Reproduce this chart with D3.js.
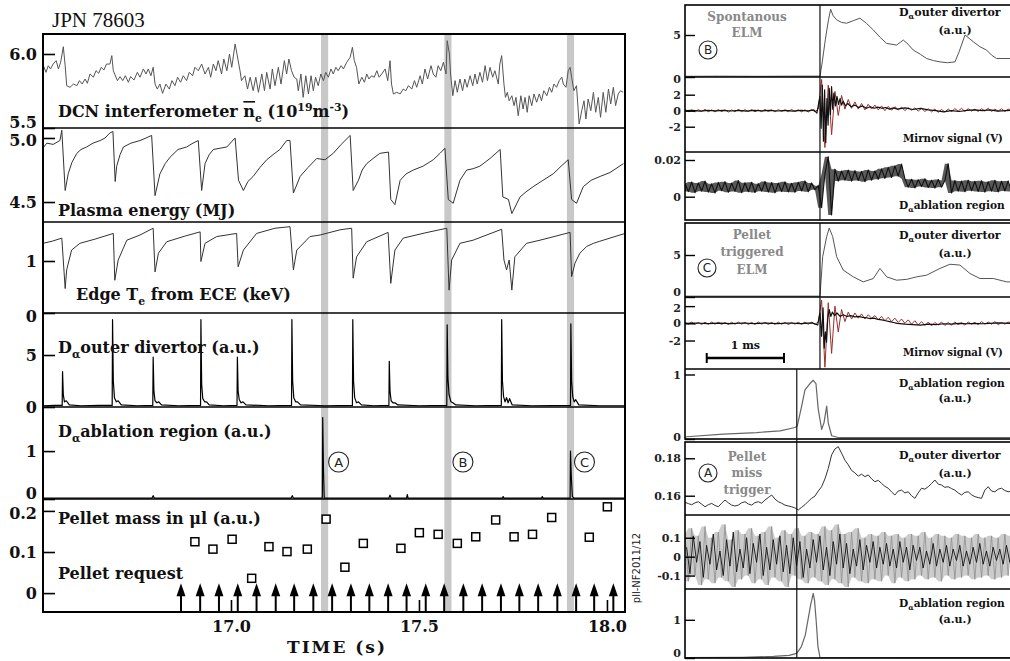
<!DOCTYPE html>
<html><head><meta charset="utf-8">
<script src="https://cdn.jsdelivr.net/npm/d3@7"></script>
<style>body{margin:0;background:#fff}svg{display:block}</style>
</head><body>
<svg id="c" width="1010" height="661"></svg>
<script>
// ================= DATA (left: time in s) =================
const dcnDensity = [[16.501,5.921],[16.508,5.876],[16.514,5.921],[16.520,5.899],[16.527,5.932],[16.535,5.955],[16.541,5.899],[16.547,5.944],[16.554,6.049],[16.559,5.921],[16.563,5.786],[16.572,5.775],[16.581,5.797],[16.590,5.786],[16.597,5.820],[16.604,5.797],[16.612,5.831],[16.618,5.802],[16.625,5.865],[16.634,5.843],[16.641,5.887],[16.648,5.870],[16.655,5.910],[16.662,5.892],[16.669,5.932],[16.678,5.932],[16.683,5.989],[16.687,5.887],[16.698,5.820],[16.705,5.847],[16.712,5.820],[16.719,5.853],[16.727,5.809],[16.733,5.847],[16.742,5.824],[16.751,5.876],[16.758,5.843],[16.767,5.899],[16.774,5.865],[16.780,5.899],[16.787,5.853],[16.793,5.910],[16.798,5.797],[16.804,5.763],[16.811,5.797],[16.818,5.734],[16.827,5.797],[16.836,5.763],[16.843,5.820],[16.851,5.786],[16.858,5.843],[16.866,5.809],[16.873,5.853],[16.882,5.820],[16.889,5.876],[16.898,5.853],[16.904,5.910],[16.913,5.887],[16.922,5.932],[16.931,5.865],[16.940,5.910],[16.946,5.843],[16.953,5.932],[16.960,5.887],[16.966,5.955],[16.975,5.865],[16.981,5.966],[16.989,5.887],[16.996,6.000],[17.002,5.910],[17.011,6.068],[17.024,5.887],[17.028,5.820],[17.037,5.853],[17.044,5.763],[17.051,5.843],[17.059,5.752],[17.066,5.843],[17.073,5.741],[17.082,5.865],[17.089,5.752],[17.095,5.876],[17.104,5.763],[17.110,5.899],[17.117,5.786],[17.126,5.910],[17.133,5.797],[17.142,5.955],[17.148,5.865],[17.154,5.966],[17.161,5.887],[17.168,5.843],[17.175,5.831],[17.179,5.752],[17.186,5.865],[17.192,5.707],[17.199,5.853],[17.206,5.730],[17.213,5.853],[17.219,5.752],[17.225,5.843],[17.232,5.786],[17.239,5.865],[17.246,5.820],[17.252,5.876],[17.259,5.843],[17.266,5.899],[17.272,5.865],[17.279,5.910],[17.285,5.887],[17.293,5.921],[17.299,5.899],[17.308,5.944],[17.317,5.978],[17.323,6.045],[17.328,5.955],[17.334,5.910],[17.340,5.797],[17.348,5.843],[17.355,5.809],[17.361,5.865],[17.367,5.831],[17.374,5.853],[17.381,5.843],[17.388,5.887],[17.394,5.843],[17.401,5.865],[17.410,5.899],[17.417,5.820],[17.423,5.955],[17.427,5.797],[17.432,5.730],[17.441,5.741],[17.450,5.730],[17.458,5.763],[17.465,5.752],[17.472,5.786],[17.481,5.763],[17.488,5.820],[17.494,5.775],[17.503,5.853],[17.509,5.797],[17.516,5.899],[17.523,5.831],[17.532,5.921],[17.538,5.865],[17.545,5.843],[17.551,5.921],[17.558,5.887],[17.565,5.944],[17.572,5.865],[17.575,6.090],[17.581,6.000],[17.584,5.865],[17.590,5.718],[17.596,5.820],[17.602,5.741],[17.609,5.831],[17.616,5.752],[17.622,5.831],[17.628,5.775],[17.636,5.853],[17.643,5.786],[17.649,5.865],[17.655,5.797],[17.662,5.876],[17.669,5.809],[17.676,5.921],[17.682,5.820],[17.689,5.910],[17.696,5.843],[17.702,5.887],[17.711,5.797],[17.715,5.932],[17.720,5.989],[17.726,5.797],[17.730,5.707],[17.735,5.741],[17.740,5.684],[17.747,5.718],[17.753,5.651],[17.758,5.707],[17.764,5.583],[17.771,5.718],[17.777,5.628],[17.782,5.707],[17.788,5.606],[17.793,5.718],[17.800,5.651],[17.806,5.730],[17.813,5.674],[17.820,5.730],[17.826,5.684],[17.832,5.752],[17.840,5.718],[17.847,5.775],[17.853,5.741],[17.859,5.797],[17.866,5.775],[17.873,5.820],[17.880,5.843],[17.884,5.797],[17.891,5.775],[17.897,5.887],[17.902,5.910],[17.906,5.843],[17.912,5.752],[17.919,5.786],[17.926,5.527],[17.933,5.617],[17.939,5.684],[17.944,5.561],[17.950,5.696],[17.957,5.617],[17.964,5.741],[17.970,5.606],[17.977,5.707],[17.983,5.572],[17.990,5.741],[17.997,5.606],[18.004,5.763],[18.010,5.662],[18.017,5.775],[18.023,5.651],[18.030,5.730],[18.036,5.752],[18.043,5.741]];

const plasmaEnergy = [[16.500,4.92],[16.510,4.96],[16.527,4.95],[16.545,4.98],[16.550,5.06],[16.559,4.59],[16.567,4.72],[16.577,4.81],[16.590,4.88],[16.601,4.91],[16.616,4.93],[16.633,4.96],[16.652,4.98],[16.665,5.00],[16.678,5.04],[16.686,5.05],[16.692,4.66],[16.696,4.78],[16.705,4.87],[16.714,4.93],[16.734,4.96],[16.758,4.98],[16.774,5.00],[16.789,5.02],[16.798,4.55],[16.811,4.72],[16.825,4.80],[16.838,4.85],[16.859,4.91],[16.882,4.93],[16.899,4.96],[16.913,4.98],[16.922,4.59],[16.931,4.80],[16.942,4.87],[16.953,4.91],[16.971,4.92],[16.989,4.93],[17.011,5.00],[17.020,4.67],[17.033,4.59],[17.045,4.66],[17.059,4.70],[17.077,4.77],[17.095,4.83],[17.112,4.87],[17.130,4.91],[17.148,4.98],[17.157,4.98],[17.166,4.57],[17.184,4.70],[17.205,4.77],[17.228,4.84],[17.250,4.83],[17.272,4.88],[17.293,4.95],[17.317,5.02],[17.325,4.59],[17.339,4.67],[17.349,4.75],[17.361,4.80],[17.378,4.84],[17.396,4.88],[17.419,4.89],[17.425,4.52],[17.436,4.48],[17.450,4.67],[17.466,4.72],[17.485,4.75],[17.511,4.78],[17.538,4.83],[17.556,4.88],[17.569,4.92],[17.578,4.52],[17.591,4.49],[17.609,4.67],[17.627,4.75],[17.644,4.76],[17.662,4.78],[17.689,4.84],[17.716,4.91],[17.723,4.54],[17.738,4.52],[17.747,4.41],[17.769,4.54],[17.785,4.58],[17.804,4.62],[17.830,4.67],[17.857,4.72],[17.878,4.78],[17.897,4.83],[17.906,4.52],[17.919,4.49],[17.937,4.62],[17.958,4.67],[17.982,4.70],[18.008,4.73],[18.044,4.80]];

const edgeTe = [[16.500,1.34],[16.524,1.38],[16.550,1.44],[16.559,0.47],[16.563,0.83],[16.576,1.21],[16.598,1.34],[16.638,1.42],[16.687,1.53],[16.691,0.63],[16.700,1.02],[16.723,1.40],[16.758,1.50],[16.793,1.63],[16.798,0.79],[16.807,1.15],[16.829,1.37],[16.878,1.48],[16.918,1.56],[16.920,0.99],[16.931,1.34],[16.962,1.47],[17.015,1.53],[17.019,0.89],[17.033,1.21],[17.068,1.53],[17.117,1.63],[17.157,1.66],[17.166,0.83],[17.175,1.21],[17.210,1.47],[17.237,1.50],[17.290,1.60],[17.321,1.63],[17.325,0.67],[17.334,1.08],[17.361,1.37],[17.418,1.55],[17.425,0.57],[17.436,1.21],[17.458,1.44],[17.516,1.54],[17.574,1.63],[17.580,0.44],[17.587,1.02],[17.609,1.34],[17.644,1.40],[17.720,1.61],[17.726,1.02],[17.733,0.83],[17.740,1.02],[17.747,0.44],[17.755,1.08],[17.786,1.34],[17.822,1.40],[17.902,1.55],[17.906,0.70],[17.915,0.96],[17.928,1.15],[17.946,1.28],[17.964,1.34],[17.981,1.38],[18.048,1.53]];

const dalphaOuter = [[16.50,0.12],[16.53,0.15],[16.551,0.15],[16.552,3.4],[16.554,1.2],[16.557,0.5],[16.562,0.6],[16.57,0.2],[16.60,0.12],[16.65,0.15],[16.684,0.15],[16.685,8.4],[16.687,2.5],[16.690,0.9],[16.695,0.5],[16.700,0.6],[16.708,0.2],[16.75,0.12],[16.792,0.15],[16.793,4.8],[16.795,1.5],[16.798,0.6],[16.803,0.4],[16.808,0.5],[16.815,0.2],[16.86,0.12],[16.919,0.15],[16.920,8.4],[16.922,2.2],[16.925,0.8],[16.930,0.5],[16.935,0.5],[16.942,0.2],[16.98,0.12],[17.016,0.15],[17.017,4.8],[17.019,1.5],[17.022,0.7],[17.027,0.4],[17.032,0.5],[17.040,0.2],[17.10,0.12],[17.161,0.15],[17.162,8.4],[17.164,2.5],[17.167,0.9],[17.172,0.5],[17.177,0.5],[17.185,0.2],[17.25,0.12],[17.323,0.15],[17.324,8.4],[17.326,2.5],[17.329,0.9],[17.334,0.4],[17.339,0.5],[17.347,0.2],[17.38,0.12],[17.420,0.15],[17.421,4.4],[17.423,1.5],[17.426,0.6],[17.431,0.4],[17.436,0.4],[17.444,0.2],[17.50,0.12],[17.574,0.15],[17.575,7.9],[17.577,2.8],[17.580,1.2],[17.585,0.5],[17.590,0.4],[17.598,0.2],[17.65,0.12],[17.719,0.15],[17.720,8.4],[17.722,2.5],[17.725,1.0],[17.729,0.5],[17.733,0.9],[17.737,0.4],[17.741,0.8],[17.748,0.2],[17.80,0.12],[17.903,0.15],[17.904,8.0],[17.906,2.5],[17.909,1.0],[17.913,0.5],[17.917,0.7],[17.925,0.2],[17.98,0.12],[18.048,0.12]];

const dalphaAblation = [[16.50,0.02],[16.79,0.02],[16.793,0.07],[16.796,0.02],[17.16,0.02],[17.163,0.07],[17.166,0.02],[17.243,0.02],[17.244,1.7],[17.246,0.6],[17.248,0.02],[17.42,0.02],[17.423,0.08],[17.426,0.02],[17.467,0.02],[17.469,0.09],[17.471,0.02],[17.722,0.02],[17.724,0.05],[17.726,0.02],[17.826,0.02],[17.828,0.05],[17.830,0.02],[17.902,0.02],[17.903,1.0],[17.905,0.5],[17.908,0.05],[17.912,0.02],[18.048,0.02]];

const pelletMass = [[16.904,0.125],[16.952,0.107],[17.003,0.131],[17.055,0.036],[17.101,0.113],[17.149,0.101],[17.203,0.107],[17.253,0.180],[17.303,0.063],[17.352,0.121],[17.452,0.109],[17.501,0.147],[17.551,0.143],[17.602,0.121],[17.651,0.137],[17.704,0.178],[17.753,0.137],[17.802,0.143],[17.853,0.184],[17.953,0.136],[18.001,0.210]];
const pelletRequests = [16.867,16.918,16.968,17.018,17.068,17.119,17.168,17.219,17.269,17.319,17.368,17.418,17.467,17.518,17.567,17.618,17.668,17.718,17.767,17.817,17.868,17.918,17.966,18.017];
const requestLevel = 0.024;
const markedEvents = [{t:17.249,label:'A'},{t:17.577,label:'B'},{t:17.903,label:'C'}];
const eventWidth = 0.019;
const timeTicks = [17.0, 17.5, 18.0];

// ================= DATA (right: time in ms relative to ELM) =================
const sampleStart = -1.746, sampleStep = 0.0431;
const dalphaB = [[-1.746,0.08],[-1.3,0.1],[-0.8,0.08],[-0.3,0.1],[0,0.1],[0.03,1.8],[0.07,4.5],[0.11,6.8],[0.138,8.06],[0.17,7.3],[0.216,6.8],[0.28,6.5],[0.345,6.4],[0.43,6.7],[0.517,7.0],[0.6,6.4],[0.69,5.6],[0.78,4.7],[0.862,4.0],[0.992,3.8],[1.078,4.4],[1.14,3.9],[1.207,3.2],[1.30,2.7],[1.38,2.2],[1.47,1.95],[1.552,1.8],[1.65,1.7],[1.746,1.8],[1.80,3.0],[1.876,5.0],[1.93,4.6],[1.983,4.2],[2.07,3.6],[2.156,3.2],[2.22,2.6],[2.285,2.2],[2.46,2.2]];
const mirnovBRed = [0.15,-0.12,0.10,-0.16,0.13,-0.10,0.17,-0.13,0.11,-0.15,0.14,-0.11,0.12,-0.17,0.10,-0.13,0.16,-0.12,0.13,-0.10,0.15,-0.14,0.11,-0.12,0.17,-0.10,0.12,-0.15,0.14,-0.11,0.10,-0.13,0.16,-0.12,0.12,-0.14,0.11,-0.16,0.15,-0.13,0.20,
 3.9,-4.6,3.2,-3.0,2.4,-0.6,1.9,0.2,1.4,0.3,1.1,0.2,0.9,0.1,0.8,0.2,0.7,0.1,0.6,0.0,0.55,0.05,0.5,0.1,0.45,0.0,0.4,0.05,0.35,-0.05,0.3,-0.1,0.25,-0.15,0.2,-0.2,0.15,-0.15,0.2,-0.1,0.25,-0.05,0.3,-0.1,0.25,-0.05,0.2,-0.1,0.25,-0.05,0.3,-0.1,0.2,-0.05,0.25,-0.1,0.2,0.0];
const mirnovBBlack = [[-1.746,0.0],[-1.65,0.05],[-1.55,-0.05],[-1.45,0.04],[-1.35,-0.03],[-1.25,0.05],[-1.15,-0.04],[-1.05,0.03],[-0.95,-0.05],[-0.85,0.04],[-0.75,-0.03],[-0.65,0.05],[-0.55,-0.04],[-0.45,0.03],[-0.35,-0.05],[-0.25,0.04],[-0.15,-0.03],[-0.08,0.1],[-0.04,-0.3],[0.0,1.8],[0.015,-2.2],[0.03,3.2],[0.045,-3.8],[0.06,2.6],[0.075,-4.0],[0.09,1.5],[0.105,-1.8],[0.12,2.8],[0.135,-0.5],[0.15,3.0],[0.165,0.2],[0.18,2.2],[0.2,0.6],[0.22,1.8],[0.24,0.8],[0.26,1.5],[0.28,0.7],[0.3,1.2],[0.33,0.6],[0.36,0.9],[0.4,0.5],[0.45,0.7],[0.5,0.4],[0.55,0.6],[0.6,0.3],[0.65,0.5],[0.7,0.3],[0.75,0.45],[0.8,0.3],[0.85,0.4],[0.9,0.2],[0.95,0.35],[1.0,0.2],[1.1,0.35],[1.2,0.15],[1.3,0.3],[1.4,0.1],[1.5,0.0],[1.6,-0.15],[1.7,0.0],[1.8,-0.1],[1.9,0.05],[2.0,0.1],[2.1,0.0],[2.2,0.1],[2.3,-0.05],[2.46,0.05]];
const ablationB = [0.0072,0.0028,0.0080,0.0022,0.0075,0.0030,0.0085,0.0025,0.0070,0.0020,0.0078,0.0032,0.0082,0.0024,0.0074,0.0029,0.0088,0.0022,0.0076,0.0027,0.0079,0.0023,0.0071,0.0030,0.0083,0.0025,0.0077,0.0021,0.0074,0.0028,0.0081,0.0026,0.0073,0.0024,0.0079,0.0031,0.0086,0.0027,0.0075,0.0038,
 0.0060,-0.0060,0.0125,0.0218,-0.0100,0.0150,
 0.0085,0.0140,0.0090,0.0145,0.0085,0.0142,0.0088,0.0138,0.0082,0.0146,0.0090,0.0140,
 0.0095,0.0152,0.0100,0.0160,0.0105,0.0168,0.0112,0.0178,
 0.0098,0.0052,0.0095,0.0048,0.0092,0.0055,0.0098,0.0050,0.0090,0.0047,0.0094,0.0052,0.0088,
 0.0180,0.0020,
 0.0088,0.0030,0.0085,0.0027,0.0090,0.0032,0.0084,0.0028,0.0087,0.0025,0.0082,0.0030,0.0089,0.0026,0.0084,0.0031,0.0086,0.0028];

const dalphaC = [[-1.746,0.1],[-1.0,0.1],[-0.3,0.1],[0,0.1],[0.035,4.8],[0.087,7.2],[0.12,8.2],[0.164,7.2],[0.216,4.8],[0.301,3.2],[0.431,2.4],[0.56,1.8],[0.69,2.2],[0.776,3.4],[0.863,2.4],[0.992,2.0],[1.122,2.1],[1.251,2.4],[1.38,2.6],[1.552,3.4],[1.682,3.9],[1.811,3.8],[1.94,2.8],[2.07,2.2],[2.242,2.2],[2.415,1.8],[2.46,1.8]];
const mirnovCRed = [0.12,-0.10,0.14,-0.12,0.10,-0.14,0.13,-0.11,0.15,-0.10,0.12,-0.13,0.10,-0.15,0.13,-0.11,0.14,-0.10,0.12,-0.14,0.11,-0.12,0.15,-0.10,0.13,-0.13,0.10,-0.12,0.14,-0.11,0.12,-0.15,0.11,-0.10,0.13,-0.12,0.15,-0.11,0.12,-0.14,0.18,
 2.7,-5.1,2.4,-3.5,2.0,-1.0,1.6,0.2,1.3,0.5,1.2,0.6,1.1,0.5,1.0,0.6,0.9,0.4,0.8,0.3,0.7,0.2,0.6,0.1,0.5,0.0,0.4,-0.1,0.3,-0.2,0.2,-0.25,0.15,-0.3,0.1,-0.2,0.15,-0.25,0.1,-0.2,0.15,-0.15,0.1,-0.2,0.15,-0.1,0.1,-0.15,0.2,-0.1,0.15,-0.1,0.2,-0.15,0.1,-0.1,0.15,0.0];
const mirnovCBlack = [[-1.746,0],[-1.6,0.04],[-1.45,-0.04],[-1.3,0.03],[-1.15,-0.03],[-1.0,0.04],[-0.85,-0.04],[-0.7,0.03],[-0.55,-0.03],[-0.4,0.04],[-0.25,-0.03],[-0.1,0.05],[-0.03,-0.2],[0.0,1.2],[0.02,-1.5],[0.04,1.8],[0.055,-2.9],[0.07,-1.0],[0.085,-2.2],[0.1,0.5],[0.12,1.6],[0.14,0.8],[0.16,1.3],[0.19,0.9],[0.22,1.2],[0.26,0.8],[0.3,1.0],[0.35,0.8],[0.4,0.9],[0.45,0.75],[0.5,0.8],[0.55,0.7],[0.6,0.65],[0.65,0.55],[0.7,0.6],[0.75,0.45],[0.8,0.4],[0.85,0.3],[0.9,0.2],[0.95,0.1],[1.0,0.0],[1.1,-0.1],[1.2,-0.15],[1.3,-0.2],[1.4,-0.1],[1.5,-0.15],[1.6,-0.05],[1.7,-0.1],[1.8,0.0],[1.9,-0.05],[2.0,0.0],[2.1,-0.05],[2.2,0.0],[2.3,0.05],[2.46,0.0]];
const ablationC = [[-1.746,0.03],[-1.724,0.035],[-1.251,0.076],[-0.819,0.1],[-0.517,0.126],[-0.323,0.178],[-0.294,0.2],[-0.237,0.51],[-0.194,0.76],[-0.129,0.86],[-0.087,0.91],[-0.052,0.86],[-0.022,0.46],[0.022,0.15],[0.052,0.25],[0.087,0.51],[0.107,0.25],[0.151,0.05],[0.25,0.02],[2.46,0.02]];

const dalphaA = [0.1565,0.1558,0.1552,0.1562,0.1568,0.1555,0.1541,0.1552,0.1559,0.1548,0.1541,0.1560,0.1577,0.1562,0.1550,0.1545,0.1550,0.1562,0.1568,0.1556,0.1550,0.1563,0.1568,0.1560,0.1577,0.1590,0.1604,0.1582,0.1568,0.1560,0.1550,0.1545,0.1541,0.1535,0.1524,0.1538,0.1552,0.1570,0.1586,0.1598,0.1625,0.1648,0.1690,0.1745,0.1818,0.1850,0.1862,0.1827,0.1790,0.1765,0.1735,0.1722,0.1705,0.1715,0.1702,0.1711,0.1690,0.1675,0.1682,0.1666,0.1650,0.1640,0.1620,0.1604,0.1625,0.1630,0.1615,0.1621,0.1600,0.1586,0.1615,0.1640,0.1635,0.1648,0.1665,0.1684,0.1662,0.1657,0.1645,0.1648,0.1638,0.1630,0.1615,0.1604,0.1618,0.1621,0.1605,0.1595,0.1590,0.1586,0.1630,0.1648,0.1625,0.1621,0.1635,0.1640,0.1628,0.1621,0.1625];
const mirnovAGray = [0.12,-0.13,0.15,-0.10,0.11,-0.15,0.16,-0.12,0.10,-0.14,0.13,-0.11,0.17,-0.13,0.09,-0.16,0.14,-0.12,0.12,-0.10,0.15,-0.14,0.11,-0.12,0.13,-0.15,0.16,-0.11,0.10,-0.13,0.14,-0.16,0.12,-0.10,0.15,-0.12,0.11,-0.14,0.13,-0.11,0.12,-0.13,0.16,-0.15,0.14,-0.12,0.17,-0.14,0.12,-0.16,0.13,-0.11,0.15,-0.13,0.10,-0.14,0.12,-0.12,0.11,-0.13,0.13,-0.10,0.11,-0.14,0.12,-0.11,0.10,-0.13,0.12,-0.12,0.11,-0.10,0.13,-0.12,0.10,-0.11,0.12,-0.13,0.11,-0.10,0.10,-0.12,0.12,-0.11,0.11,-0.10,0.10,-0.12,0.12,-0.11,0.10,-0.10,0.11,-0.12,0.10,-0.11,0.12,-0.10,0.11];
const mirnovABlackStart = -1.725;
const mirnovABlack = [0.05,-0.09,0.11,-0.03,0.08,-0.11,0.06,-0.04,0.12,-0.07,0.03,-0.10,0.09,-0.05,0.13,-0.08,0.04,-0.06,0.10,-0.09,0.07,-0.03,0.12,-0.10,0.05,-0.07,0.09,-0.04,0.11,-0.08,0.06,-0.09,0.10,-0.05,0.08,-0.11,0.04,-0.06,0.09,-0.03,0.11,-0.07,0.05,-0.10,0.08,-0.04,0.12,-0.06,0.07,-0.09,0.04,-0.05,0.09,-0.07,0.06,-0.03,0.08,-0.06,0.05,-0.04,0.07,-0.05,0.04,-0.06,0.08,-0.03,0.05,-0.07,0.06,-0.02,0.05,-0.06,0.03,-0.04,0.07,-0.05,0.04,-0.03,0.06,-0.05,0.04,-0.02,0.06,-0.05,0.03,-0.04,0.05,-0.03,0.07,-0.04,0.03,-0.05,0.05,-0.02,0.04,-0.04,0.06,-0.03,0.04];
const ablationA = [[-1.746,0.01],[-1.0,0.02],[-0.6,0.04],[-0.4,0.07],[-0.3,0.12],[-0.24,0.3],[-0.19,0.6],[-0.155,1.0],[-0.12,1.4],[-0.087,1.69],[-0.07,1.5],[-0.05,1.0],[-0.026,0.3],[0.0,0.02],[2.46,0.01]];
const elmTime = 0, pelletTime = -0.3, scaleBarStart = -1.465, scaleBarLength = 1;

// ================= RENDER =================
const FONT = "'DejaVu Serif', 'Liberation Serif', serif";
const svg = d3.select('#c');
svg.append('rect').attr('width',1010).attr('height',661).attr('fill','#fff');
const sampled = (start, step, vals) => vals.map((v,i)=>[start+i*step, v]);

function rich(sel, x, y, parts, size, color, anchor){
  const t = sel.append('text').attr('x',x).attr('y',y).attr('font-family',FONT)
    .attr('font-weight','bold').attr('font-size',size).attr('fill',color||'#111')
    .attr('text-anchor',anchor||'start');
  let shift = 0;
  parts.forEach(p=>{
    const txt = typeof p==='string'?p:p[0], kind = typeof p==='string'?null:p[1];
    const target = kind==='sub'? size*0.3 : kind==='sup'? -size*0.4 : 0;
    const ts = t.append('tspan').text(txt).attr('dy', target-shift);
    if(kind==='sub'||kind==='sup') ts.attr('font-size', size*0.68);
    if(kind==='over') ts.style('text-decoration','overline');
    shift = target;
  });
  return t;
}
const fmtTick = d => d===0 ? '0' : String(d);
function shiftLabels(ax, shifts){
  if(!shifts) return;
  ax.selectAll('.tick').each(function(d){
    if(shifts[d]!==undefined) d3.select(this).select('text').attr('y', shifts[d]);
  });
}

// ---------- LEFT ----------
const L = {x0:43, x1:625, top:34, bottom:612};
const tx = d3.scaleLinear().domain([16.5,18.048]).range([L.x0,L.x1]);
const leftPanels = [
 {id:'dcn', y0:34, y1:128, domain:[5.5,6.135], ticks:[5.5,6.0], fmt:d3.format('.1f'), shifts:{5.5:-6}, data:dcnDensity, color:'#555', w:1},
 {id:'we', y0:128, y1:222, domain:[4.344,5.078], ticks:[4.5,5.0], fmt:d3.format('.1f'), shifts:{5:2}, data:plasmaEnergy, color:'#333', w:1},
 {id:'te', y0:222, y1:313, domain:[0,1.75], ticks:[0,1], fmt:fmtTick, shifts:{0:3}, data:edgeTe, color:'#333', w:1},
 {id:'da', y0:313, y1:407, domain:[0,9.04], ticks:[0,5], fmt:fmtTick, data:dalphaOuter, color:'#000', w:1.2},
 {id:'abl', y0:407, y1:499, domain:[0,1.92], ticks:[0,1], fmt:fmtTick, shifts:{0:-6}, data:dalphaAblation, color:'#000', w:1.2},
 {id:'pel', y0:499, y1:612, domain:[-0.046,0.229], ticks:[0,0.1,0.2], fmt:d=>d===0?'0':d3.format('.1f')(d), shifts:{0.2:2}, data:null}
];
const defs = svg.append('defs');
const left = svg.append('g');
left.selectAll('rect.band').data(markedEvents).join('rect')
  .attr('x',d=>tx(d.t-eventWidth/2)).attr('width',d=>tx(d.t+eventWidth/2)-tx(d.t-eventWidth/2))
  .attr('y',L.top).attr('height',L.bottom-L.top).attr('fill','#c8c8c8');

leftPanels.forEach(p=>{
  p.y = d3.scaleLinear().domain(p.domain).range([p.y1,p.y0]);
  defs.append('clipPath').attr('id','clip-'+p.id).append('rect')
    .attr('x',L.x0).attr('y',p.y0).attr('width',L.x1-L.x0).attr('height',p.y1-p.y0);
  if(p.data){
    left.append('path').datum(p.data).attr('clip-path','url(#clip-'+p.id+')')
      .attr('fill','none').attr('stroke',p.color).attr('stroke-width',p.w).attr('stroke-linejoin','round')
      .attr('d', d3.line().x(d=>tx(d[0])).y(d=>p.y(d[1])));
  }
  const ax = left.append('g').attr('transform',`translate(${L.x0},0)`)
    .call(d3.axisLeft(p.y).tickValues(p.ticks).tickSize(-12).tickPadding(6).tickFormat(p.fmt));
  ax.select('.domain').remove();
  ax.selectAll('line').attr('stroke','#000').attr('stroke-width',1.6);
  ax.selectAll('text').attr('font-family',FONT).attr('font-weight','bold').attr('font-size',16).attr('fill','#111');
  shiftLabels(ax, p.shifts);
});
const pp = leftPanels[5];
left.selectAll('rect.mass').data(pelletMass).join('rect')
  .attr('x',d=>tx(d[0])-4).attr('y',d=>pp.y(d[1])-4).attr('width',8).attr('height',8)
  .attr('fill','#fff').attr('stroke','#000').attr('stroke-width',1.5);
const tipY = pp.y(requestLevel);
left.selectAll('line.req').data(pelletRequests).join('line')
  .attr('x1',d=>tx(d)).attr('x2',d=>tx(d)).attr('y1',L.bottom).attr('y2',tipY+10)
  .attr('stroke','#000').attr('stroke-width',2);
left.selectAll('path.head').data(pelletRequests).join('path')
  .attr('d',d=>`M${tx(d)},${tipY}L${tx(d)+4.5},${tipY+13}L${tx(d)-4.5},${tipY+13}Z`).attr('fill','#000');
const xa = left.append('g').attr('transform',`translate(0,${L.bottom})`)
  .call(d3.axisBottom(tx).tickValues(timeTicks).tickSize(-12).tickPadding(9).tickFormat(d3.format('.1f')));
xa.select('.domain').remove();
xa.selectAll('line').attr('stroke','#000').attr('stroke-width',1.6);
xa.selectAll('text').attr('font-family',FONT).attr('font-weight','bold').attr('font-size',16).attr('fill','#111');
left.append('rect').attr('x',L.x0).attr('y',L.top).attr('width',L.x1-L.x0).attr('height',L.bottom-L.top)
  .attr('fill','none').attr('stroke','#000').attr('stroke-width',2);
leftPanels.slice(1).forEach(p=>left.append('line').attr('x1',L.x0).attr('x2',L.x1).attr('y1',p.y0).attr('y2',p.y0)
  .attr('stroke','#000').attr('stroke-width',1.6));
const LS = 16;
rich(left,58,117,['DCN interferometer ',['n','over'],['e','sub'],' (10',['19','sup'],'m',['-3','sup'],')'],LS);
rich(left,58,216,['Plasma energy (MJ)'],LS);
rich(left,76,300,['Edge T',['e','sub'],' from ECE (keV)'],LS);
rich(left,58,353,['D',['α','sub'],'outer divertor (a.u.)'],LS);
rich(left,58,437,['D',['α','sub'],'ablation region (a.u.)'],LS);
rich(left,58,524,['Pellet mass in μl (a.u.)'],LS);
rich(left,58,579,['Pellet request'],LS);
left.append('text').attr('x',52).attr('y',27).attr('font-family',"'Liberation Serif', serif")
  .attr('font-size',21).attr('fill','#111').text('JPN 78603');
left.append('text').attr('x',337).attr('y',653).attr('text-anchor','middle').attr('font-family',FONT)
  .attr('font-weight','bold').attr('font-size',17).attr('letter-spacing',2).attr('fill','#111').text('TIME (s)');
left.append('text').attr('transform','translate(640,568) rotate(-90)').attr('text-anchor','middle')
  .attr('font-family',"'DejaVu Sans', sans-serif").attr('font-size',10).attr('fill','#222').text('pll-NF2011/12');
function circled(g,x,y,r,letter,size){
  g.append('circle').attr('cx',x).attr('cy',y).attr('r',r).attr('fill','#fff').attr('stroke','#222').attr('stroke-width',1.1);
  g.append('text').attr('x',x).attr('y',y+size*0.36).attr('text-anchor','middle').attr('font-family',"'DejaVu Sans', sans-serif")
    .attr('font-size',size).attr('fill','#222').text(letter);
}
markedEvents.forEach(e=>circled(left, tx(e.t)+ (e.label==='B'?15:14), 462, 10, e.label, 13));

// ---------- RIGHT ----------
const R = {x0:685, x1:1014};
const rx = d3.scaleLinear().domain([-1.746,2.51]).range([R.x0,R.x1]);
const rightGroups = [
 {id:'B', rows:[
   {k:'da', y0:5, y1:77, domain:[0,8.57], ticks:[0,5], shifts:{0:2}},
   {k:'mir', y0:77, y1:152, domain:[-5.16,4.21], ticks:[-2,0,2]},
   {k:'abl', y0:152, y1:220, domain:[-0.0127,0.02436], ticks:[0,0.02]}]},
 {id:'C', rows:[
   {k:'da', y0:223, y1:297, domain:[0,8.81], ticks:[0,5], shifts:{0:-5}},
   {k:'mir', y0:297, y1:369, domain:[-5.31,3.06], ticks:[-2,0,2], shifts:{2:1.5}},
   {k:'abl', y0:369, y1:439, domain:[0,1.085], ticks:[0,1], shifts:{0:-2}}]},
 {id:'A', rows:[
   {k:'da', y0:442, y1:515, domain:[0.1497,0.1887], ticks:[0.16,0.18]},
   {k:'mir', y0:515, y1:589, domain:[-0.171,0.2204], ticks:[-0.1,0,0.1]},
   {k:'abl', y0:589, y1:658, domain:[0,1.807], ticks:[0,1], shifts:{0:-5}}]}
];
const right = svg.append('g');
const traces = {
 B:{da:[{d:dalphaB,c:'#555',w:1}], mir:[{d:sampled(sampleStart,sampleStep,mirnovBRed),c:'#9a2f2a',w:1},{d:mirnovBBlack,c:'#111',w:1.2}], abl:[{d:sampled(sampleStart,sampleStep,ablationB),c:'#111',w:1.1,band:'#222',bandOpacity:0.75}]},
 C:{da:[{d:dalphaC,c:'#555',w:1}], mir:[{d:sampled(sampleStart,sampleStep,mirnovCRed),c:'#9a2f2a',w:1},{d:mirnovCBlack,c:'#111',w:1.2}], abl:[{d:ablationC,c:'#666',w:1.2}]},
 A:{da:[{d:sampled(sampleStart,sampleStep,dalphaA),c:'#333',w:1}], mir:[{d:sampled(sampleStart,sampleStep,mirnovAGray),c:'#8f8f8f',w:0.8,band:'#aaaaaa',bandOpacity:0.6},{d:sampled(mirnovABlackStart,sampleStep,mirnovABlack),c:'#111',w:0.9}], abl:[{d:ablationA,c:'#666',w:1.2}]}
};
// envelope of a noisy sampled trace, from each sample and the next one
const envLo = (d,i,a)=>Math.min(d[1], (a[i+1]||d)[1]);
const envHi = (d,i,a)=>Math.max(d[1], (a[i+1]||d)[1]);
rightGroups.forEach(g=>{
  g.rows.forEach(r=>{
    r.y = d3.scaleLinear().domain(r.domain).range([r.y1,r.y0]);
    const cid = 'rc-'+g.id+r.k;
    defs.append('clipPath').attr('id',cid).append('rect').attr('x',R.x0).attr('y',r.y0).attr('width',R.x1-R.x0).attr('height',r.y1-r.y0);
    traces[g.id][r.k].forEach(tr=>{
      if(tr.band){
        right.append('path').datum(tr.d).attr('clip-path',`url(#${cid})`).attr('fill',tr.band).attr('fill-opacity',tr.bandOpacity).attr('stroke','none')
          .attr('d',d3.area().x(d=>rx(d[0])).y0((d,i)=>r.y(envLo(d,i,tr.d))).y1((d,i)=>r.y(envHi(d,i,tr.d))));
      }
      right.append('path').datum(tr.d).attr('clip-path',`url(#${cid})`).attr('fill','none')
        .attr('stroke',tr.c).attr('stroke-width',tr.w).attr('stroke-linejoin','round')
        .attr('d',d3.line().x(d=>rx(d[0])).y(d=>r.y(d[1])));
    });
    const ax = right.append('g').attr('transform',`translate(${R.x0},0)`)
      .call(d3.axisLeft(r.y).tickValues(r.ticks).tickSize(-10).tickPadding(4).tickFormat(fmtTick));
    ax.select('.domain').remove();
    ax.selectAll('line').attr('stroke','#000').attr('stroke-width',1.4);
    ax.selectAll('text').attr('font-family',FONT).attr('font-weight','bold').attr('font-size',11).attr('fill','#222');
    shiftLabels(ax, r.shifts);
  });
  const top = g.rows[0].y0, bot = g.rows[2].y1;
  right.append('rect').attr('x',R.x0).attr('y',top).attr('width',R.x1-R.x0).attr('height',bot-top)
    .attr('fill','none').attr('stroke','#000').attr('stroke-width',1.6);
  g.rows.slice(1).forEach(r=>right.append('line').attr('x1',R.x0).attr('x2',R.x1).attr('y1',r.y0).attr('y2',r.y0).attr('stroke','#000').attr('stroke-width',1.4));
});
const vline = (t,y0,y1)=>right.append('line').attr('x1',rx(t)).attr('x2',rx(t)).attr('y1',y0).attr('y2',y1).attr('stroke','#111').attr('stroke-width',1.2);
vline(elmTime, 5, 220);
vline(elmTime, 223, 369);
vline(pelletTime, 369, 658);
const sbY = 358;
right.append('line').attr('x1',rx(scaleBarStart)).attr('x2',rx(scaleBarStart+scaleBarLength)).attr('y1',sbY).attr('y2',sbY).attr('stroke','#000').attr('stroke-width',2.5);
[scaleBarStart, scaleBarStart+scaleBarLength].forEach(t=>right.append('line').attr('x1',rx(t)).attr('x2',rx(t)).attr('y1',sbY-5).attr('y2',sbY+5).attr('stroke','#000').attr('stroke-width',2));
rich(right,(rx(scaleBarStart)+rx(scaleBarStart+scaleBarLength))/2,349,['1 ms'],11,'#111','middle');
const RS = 11;
[[16,34],[239,257],[459,477]].forEach(([a,b])=>{
  rich(right,899,a,['D',['α','sub'],'outer divertor'],RS);
  rich(right,955,b,['(a.u.)'],RS,'#111','middle');
});
rich(right,903,142,['Mirnov signal (V)'],10.2);
rich(right,903,356,['Mirnov signal (V)'],10.2);
rich(right,899,209,['D',['α','sub'],'ablation region'],10.6);
rich(right,899,387,['D',['α','sub'],'ablation region'],10.6);
rich(right,955,402,['(a.u.)'],RS,'#111','middle');
rich(right,899,607,['D',['α','sub'],'ablation region'],10.6);
rich(right,955,623,['(a.u.)'],RS,'#111','middle');
const GS = 12, GC = '#888';
rich(right,747,21,['Spontanous'],GS,GC,'middle');
rich(right,747,37,['ELM'],GS,GC,'middle');
rich(right,752,239,['Pellet'],GS,GC,'middle');
rich(right,752,256,['triggered'],GS,GC,'middle');
rich(right,752,274,['ELM'],GS,GC,'middle');
rich(right,747,461,['Pellet'],GS,GC,'middle');
rich(right,747,477,['miss'],GS,GC,'middle');
rich(right,747,494,['trigger'],GS,GC,'middle');
circled(right,708,50,9,'B',12);
circled(right,707,268,9,'C',12);
circled(right,708,473,9,'A',12);
</script>
</body></html>
